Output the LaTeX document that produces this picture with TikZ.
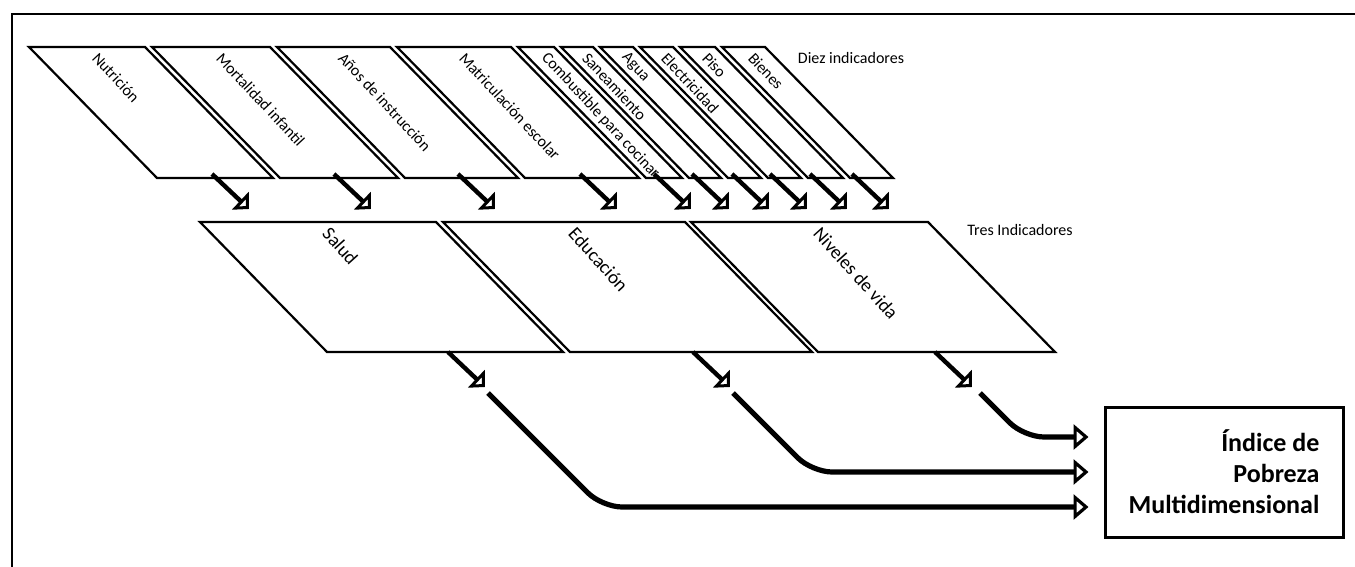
\documentclass[tikz,border=0pt]{standalone}
\usepackage{fontspec}
\setmainfont{Carlito}
\usepackage{tikz}
\usetikzlibrary{arrows.meta,calc}
\tikzset{
  panel/.style={draw,line width=1.1pt,fill=white},
  tag/.style={font=\fontsize{8}{9}\selectfont,rotate=-47,anchor=west,inner sep=0pt},
  ttag/.style={font=\fontsize{9.5}{11}\selectfont,rotate=-48,anchor=west,inner sep=0pt},
  note/.style={font=\fontsize{8}{9}\selectfont,inner sep=0pt},
  ind/.style={line width=2.2pt,-{Triangle[open,fill=white,length=6pt,width=12pt,line width=1.6pt]}},
  feed/.style={line width=2.6pt,rounded corners=10pt,
               -{Triangle[open,fill=white,length=7.5pt,width=12.5pt,line width=1.6pt]}},
  ipmbox/.style={draw,line width=1.5pt,minimum width=119pt,minimum height=65pt,
                 align=right,font=\bfseries\fontsize{13}{15.5}\selectfont},
}
\begin{document}
\begin{tikzpicture}[x=0.5pt,y=-0.5pt]
    \useasboundingbox (0,0) rectangle (1355,567);
    \draw[line width=1.2pt] (12,567) -- (12,14) -- (1355,14);
    % diez indicadores
    \draw[panel] (29,47) -- (145,47) -- (273,178) -- (157,178) -- cycle;
    \draw[panel] (152,47) -- (270,47) -- (398,178) -- (280,178) -- cycle;
    \draw[panel] (277,47) -- (390,47) -- (518,178) -- (405,178) -- cycle;
    \draw[panel] (397,47) -- (511,47) -- (639,178) -- (525,178) -- cycle;
    \draw[panel] (518,47) -- (554,47) -- (682,178) -- (646,178) -- cycle;
    \draw[panel] (561,47) -- (593,47) -- (721,178) -- (689,178) -- cycle;
    \draw[panel] (600,47) -- (633,47) -- (761,178) -- (728,178) -- cycle;
    \draw[panel] (640,47) -- (673,47) -- (801,178) -- (768,178) -- cycle;
    \draw[panel] (680,47) -- (715,47) -- (843,178) -- (808,178) -- cycle;
    \draw[panel] (722,47) -- (765,47) -- (893,178) -- (850,178) -- cycle;
    \node[tag] (nutr) at (95,55)  {Nutrición};
    \node[tag] (mort) at (219,55) {Mortalidad infantil};
    \node[tag] (anos) at (341,55) {Años de instrucción};
    \node[tag] (matr) at (462,55) {Matriculación escolar};
    \node[tag] (comb) at (544,55) {Combustible para cocinar};
    \node[tag] (sane) at (585,55) {Saneamiento};
    \node[tag] (agua) at (624,55) {Agua};
    \node[tag] (elec) at (664,55) {Electricidad};
    \node[tag] (piso) at (705,55) {Piso};
    \node[tag] (bien) at (751,55) {Bienes};
    \node[note] (diez) at (851,58) {Diez indicadores};
    \coordinate (d1) at (212,174);  \coordinate (q1) at (249,209);
    \coordinate (d2) at (334,174);  \coordinate (q2) at (371,209);
    \coordinate (d3) at (458,174);  \coordinate (q3) at (495,209);
    \coordinate (d4) at (580,174);  \coordinate (q4) at (617,209);
    \coordinate (d5) at (654,174);  \coordinate (q5) at (691,209);
    \coordinate (d6) at (692,174);  \coordinate (q6) at (729,209);
    \coordinate (d7) at (732,174);  \coordinate (q7) at (769,209);
    \coordinate (d8) at (770,174);  \coordinate (q8) at (807,209);
    \coordinate (d9) at (810,174);  \coordinate (q9) at (847,209);
    \coordinate (d10) at (852,174); \coordinate (q10) at (889,209);
    \draw[ind] (d1)--(q1);
    \draw[ind] (d2)--(q2);
    \draw[ind] (d3)--(q3);
    \draw[ind] (d4)--(q4);
    \draw[ind] (d5)--(q5);
    \draw[ind] (d6)--(q6);
    \draw[ind] (d7)--(q7);
    \draw[ind] (d8)--(q8);
    \draw[ind] (d9)--(q9);
    \draw[ind] (d10)--(q10);
    % tres indicadores
    \draw[panel] (200,222) -- (436,222) -- (563,352) -- (327,352) -- cycle;
    \draw[panel] (443,222) -- (685,222) -- (812,352) -- (570,352) -- cycle;
    \draw[panel] (691,222) -- (928,222) -- (1055,352) -- (818,352) -- cycle;
    \node[ttag] (salu) at (326,230) {Salud};
    \node[ttag] (educ) at (572,230) {Educación};
    \node[ttag] (nive) at (817,230) {Niveles de vida};
    \node[note] (tres) at (1020,230) {Tres Indicadores};
    \coordinate (t1) at (448,352); \coordinate (r1) at (485,387);
    \coordinate (t2) at (693,352); \coordinate (r2) at (730,387);
    \coordinate (t3) at (935,352); \coordinate (r3) at (972,387);
    \draw[ind] (t1)--(r1);
    \draw[ind] (t2)--(r2);
    \draw[ind] (t3)--(r3);
    % indice
    \node[ipmbox] (ipm) at (1224,472) {Índice de\\Pobreza\\Multidimensional};
    \coordinate (e1) at ([xshift=-7.5pt,yshift=17.5pt]ipm.west);
    \coordinate (e2) at ([xshift=-7.5pt]ipm.west);
    \coordinate (e3) at ([xshift=-7.5pt,yshift=-17.5pt]ipm.west);
    \coordinate (g1) at (488,393);
    \coordinate (g2) at (733,393);
    \coordinate (g3) at (980,393);
    \draw[feed] (g1) -- ++(114,114) -- (e3);
    \draw[feed] (g2) -- ++(79,79) -- (e2);
    \draw[feed] (g3) -- ++(44,44) -- (e1);
  \end{tikzpicture}
\end{document}
